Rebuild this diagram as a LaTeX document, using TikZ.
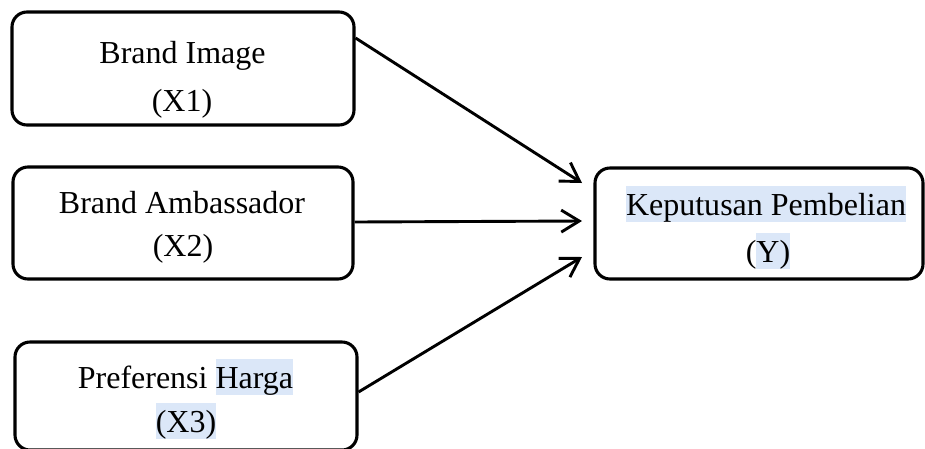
\documentclass[tikz,border=0pt]{standalone}
\usepackage{fontspec}
\setmainfont{Liberation Serif}
\usetikzlibrary{arrows.meta}
\definecolor{hlblue}{RGB}{219,231,248}
\newcommand{\hlt}[1]{{\setlength{\fboxsep}{0pt}\colorbox{hlblue}{\rule[-7pt]{0pt}{36pt}#1}}}
\begin{document}
\begin{tikzpicture}[x=1pt,y=-1pt,
  box/.style={draw, line width=3.1pt, rounded corners=15pt, inner sep=0pt},
  lbl/.style={font=\fontsize{32}{38}\selectfont, inner sep=0pt, anchor=base},
  arr/.style={line width=2.9pt, -{Straight Barb[length=18pt,width=22pt]}}]
\useasboundingbox (0,0) rectangle (925,448);
% boxes
\node[box, minimum width=342pt, minimum height=113pt] (b1) at (183,68.5) {};
\node[box, minimum width=340pt, minimum height=112pt] (b2) at (183,223) {};
\node[box, minimum width=342pt, minimum height=108pt] (b3) at (186,396) {};
\node[box, minimum width=328pt, minimum height=111pt] (bY) at (759,223.5) {};
% labels
\node[lbl] (t1a) at (182.5,63) {Brand Image};
\node[lbl] (t1b) at (182,111) {(X1)};
\node[lbl] (t2a) at (182,213) {Brand Ambassador};
\node[lbl] (t2b) at (183,256) {(X2)};
\node[lbl] (t3a) at (185.5,388) {Preferensi \hlt{Harga}};
\node[lbl] (t3b) at (186,432) {\hlt{(X3)}};
\node[lbl] (tYa) at (766,215) {\hlt{Keputusan Pembelian}};
\node[lbl] (tYb) at (768,262) {(\hlt{Y)}};
% connector end points
\coordinate (s1) at (b1.east |- 0,38);
\coordinate (s2) at (b2.east |- 0,222);
\coordinate (s3) at (b3.east |- 0,392);
\coordinate (e1) at (582,183);
\coordinate (e2) at (582,221);
\coordinate (e3) at (582,257);
\draw[arr] (s1) -- (e1);
\draw[arr] (s2) -- (e2);
\draw[arr] (s3) -- (e3);
\end{tikzpicture}
\end{document}
